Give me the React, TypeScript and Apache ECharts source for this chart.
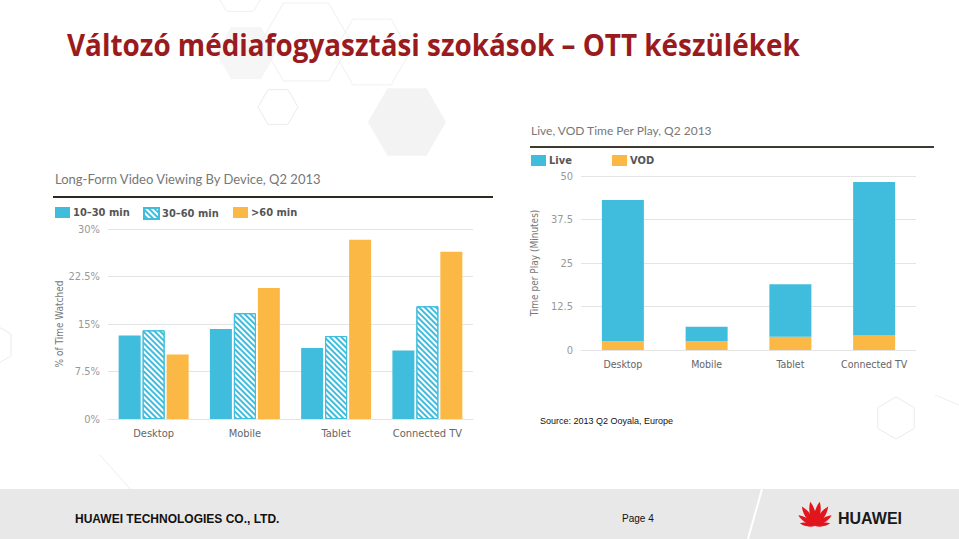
import React, { useEffect, useRef } from "react";
import * as echarts from "echarts";

const devices = ["Desktop", "Mobile", "Tablet", "Connected TV"];
const s10to30 = [13.2, 14.2, 11.2, 10.8];
const s30to60 = [14.0, 16.7, 13.1, 17.8];
const s60plus = [10.2, 20.7, 28.3, 26.4];
const liveVals = [40.6, 4.2, 15.1, 44.1];
const vodVals = [2.5, 2.5, 3.8, 4.2];
const leftTicks = [0, 7.5, 15, 22.5, 30];
const rightTicks = [0, 12.5, 25, 37.5, 50];

const BLUE = "#40bcdd";
const ORANGE = "#fbb845";
const COND = "'Liberation Sans Narrow', 'DejaVu Sans Condensed', 'Roboto', sans-serif";
const TITLE_TEXT = "Változó médiafogyasztási szokások – OTT készülékek";
const TITLE_FONT_FAMILY = "'Open Sans', 'Noto Sans', sans-serif";
const TITLE_SIZE = 31;
const TITLE_WEIGHT = 700;
const TITLE_TARGET_W = 733;

let registered = false;
function registerShapes() {
  if (registered) return;
  registered = true;
  echarts.graphic.registerShape(
    "petal",
    echarts.graphic.extendPath("M0,0 C-3.6,-5 -4,-11 0,-16 C4,-11 3.6,-5 0,0 Z", {})
  );
}

function hexPoints(cx: number, cy: number, r: number, pointyTop: boolean) {
  const pts: number[][] = [];
  for (let i = 0; i < 6; i++) {
    const a = (Math.PI / 3) * i + (pointyTop ? Math.PI / 6 : 0);
    pts.push([cx + r * Math.cos(a), cy + r * Math.sin(a)]);
  }
  return pts;
}

function measureTitle(): number {
  try {
    const c = document.createElement("canvas");
    const ctx = c.getContext("2d");
    if (!ctx) return 1;
    ctx.font = `${TITLE_WEIGHT} ${TITLE_SIZE}px ${TITLE_FONT_FAMILY}`;
    const w = ctx.measureText(TITLE_TEXT).width;
    return w > 0 ? TITLE_TARGET_W / w : 1;
  } catch (e) {
    return 1;
  }
}

export default function App() {
  const ref = useRef<HTMLDivElement>(null);
  useEffect(() => {
    if (!ref.current) return;
    registerShapes();
    const chart = echarts.init(ref.current, undefined, { renderer: "svg" });
    const titleScale = measureTitle();

    const petalAngles = [-80, -57, -34, -11, 11, 34, 57, 80];
    const petalScales = [0.62, 0.8, 0.95, 1.0, 1.0, 0.95, 0.8, 0.62];
    const petals = petalAngles.map((a, i) => ({
      type: "petal",
      x: 815,
      y: 526,
      rotation: (-a * Math.PI) / 180,
      scaleX: petalScales[i],
      scaleY: petalScales[i] * 1.55,
      style: { fill: "#e2141c" },
      silent: true,
    }));

    const faint = (pts: number[][], fill: string | null, stroke: string | null) => ({
      type: "polygon",
      shape: { points: pts },
      style: { fill: fill || "none", stroke: stroke || "none", lineWidth: 1 },
      z: -10,
      silent: true,
    });

    const option: any = {
      animation: false,
      backgroundColor: "#ffffff",
      graphic: [
        faint(hexPoints(407, 122, 39, false), "#f3f3f3", null),
        faint(hexPoints(246, 53, 30, false), "#f6f6f6", null),
        faint(hexPoints(240, -12, 27, false), null, "#efefef"),
        faint(hexPoints(306, 42, 45, false), null, "#efefef"),
        faint(hexPoints(372, 52, 38, false), null, "#f0f0f0"),
        faint(hexPoints(278, 107, 20, false), null, "#ebebeb"),
        faint(hexPoints(896, 418, 21, true), null, "#ebebeb"),
        faint(hexPoints(-8, 345, 22, true), null, "#ebebeb"),
        { type: "polyline", shape: { points: [[100, 455], [130, 489]] }, style: { stroke: "#eeeeee", lineWidth: 1 }, z: -10 },
        { type: "polyline", shape: { points: [[935, 395], [959, 405]] }, style: { stroke: "#eeeeee", lineWidth: 1 }, z: -10 },
        {
          type: "text",
          x: 67,
          y: 44,
          scaleX: titleScale,
          style: {
            text: TITLE_TEXT,
            fill: "#9a1b1e",
            fontSize: TITLE_SIZE,
            fontFamily: TITLE_FONT_FAMILY,
            fontWeight: TITLE_WEIGHT,
            align: "left",
            verticalAlign: "middle",
          },
        },
        {
          type: "text",
          x: 55,
          y: 179,
          style: { text: "Long-Form Video Viewing By Device, Q2 2013", fill: "#777777", fontSize: 13, fontFamily: "Lato, sans-serif", align: "left", verticalAlign: "middle" },
        },
        { type: "line", shape: { x1: 53, y1: 197, x2: 493, y2: 197 }, style: { stroke: "#2d2a22", lineWidth: 2 } },
        {
          type: "text",
          x: 531,
          y: 130,
          style: { text: "Live, VOD Time Per Play, Q2 2013", fill: "#777777", fontSize: 12, fontFamily: "Lato, sans-serif", align: "left", verticalAlign: "middle" },
        },
        { type: "line", shape: { x1: 530, y1: 147, x2: 934, y2: 147 }, style: { stroke: "#3d3a30", lineWidth: 2 } },
        {
          type: "text",
          x: 540,
          y: 421,
          style: { text: "Source: 2013 Q2 Ooyala, Europe", fill: "#111111", fontSize: 9, fontFamily: "'Liberation Sans', Arial, sans-serif", align: "left", verticalAlign: "middle" },
        },
        { type: "rect", shape: { x: 0, y: 489, width: 959, height: 50 }, style: { fill: "#e8e8e8" }, z: -5 },
        { type: "line", shape: { x1: 762, y1: 489, x2: 748, y2: 539 }, style: { stroke: "#ffffff", lineWidth: 2 }, z: -4 },
        {
          type: "text",
          x: 75,
          y: 519,
          style: { text: "HUAWEI TECHNOLOGIES CO., LTD.", fill: "#111111", fontSize: 12, fontWeight: "bold", fontFamily: "'Liberation Sans', Arial, sans-serif", align: "left", verticalAlign: "middle" },
        },
        {
          type: "text",
          x: 622,
          y: 518,
          style: { text: "Page 4", fill: "#111111", fontSize: 10, fontFamily: "'Liberation Sans', Arial, sans-serif", align: "left", verticalAlign: "middle" },
        },
        {
          type: "text",
          x: 838,
          y: 518,
          style: { text: "HUAWEI", fill: "#1a1a1a", fontSize: 16, fontWeight: "bold", fontFamily: "'Liberation Sans', Arial, sans-serif", align: "left", verticalAlign: "middle" },
        },
        ...petals,
      ],
      legend: [
        { data: ["10–30 min"], left: 55, top: 207 },
        { data: ["30–60 min"], left: 143, top: 207 },
        { data: [">60 min"], left: 233, top: 207 },
        { data: ["Live"], left: 531, top: 155 },
        { data: ["VOD"], left: 612, top: 155 },
      ].map((l) => ({
        ...l,
        padding: 0,
        icon: "rect",
        itemWidth: 15,
        itemHeight: 11,
        itemGap: 4,
        textStyle: { color: "#555555", fontSize: 11, fontWeight: "bold", fontFamily: COND, padding: [0, 0, 0, -2] },
        selectedMode: false,
      })),
      grid: [
        { left: 108, right: 959 - 473, top: 229, bottom: 539 - 419 },
        { left: 581, right: 959 - 916, top: 176, bottom: 539 - 350 },
      ],
      xAxis: [
        {
          type: "category",
          gridIndex: 0,
          data: devices,
          axisLine: { show: true, lineStyle: { color: "#e4e4e4" } },
          axisTick: { show: false },
          axisLabel: { color: "#666666", fontSize: 11, fontFamily: COND, margin: 9, interval: 0 },
        },
        {
          type: "category",
          gridIndex: 1,
          data: devices,
          axisLine: { show: true, lineStyle: { color: "#e4e4e4" } },
          axisTick: { show: false },
          axisLabel: { color: "#666666", fontSize: 10.5, fontFamily: COND, margin: 8, interval: 0 },
        },
      ],
      yAxis: [
        {
          type: "value",
          gridIndex: 0,
          min: leftTicks[0],
          max: leftTicks[leftTicks.length - 1],
          interval: leftTicks[1] - leftTicks[0],
          name: "% of Time Watched",
          nameLocation: "middle",
          nameGap: 44,
          nameTextStyle: { color: "#777777", fontSize: 10, fontFamily: COND },
          axisLine: { show: false },
          axisTick: { show: false },
          splitLine: { lineStyle: { color: "#e4e4e4" } },
          axisLabel: { color: "#999999", fontSize: 11, fontFamily: COND, margin: 8, formatter: (v: number) => v + "%" },
        },
        {
          type: "value",
          gridIndex: 1,
          min: rightTicks[0],
          max: rightTicks[rightTicks.length - 1],
          interval: rightTicks[1] - rightTicks[0],
          name: "Time per Play (Minutes)",
          nameLocation: "middle",
          nameGap: 42,
          nameTextStyle: { color: "#777777", fontSize: 10, fontFamily: COND },
          axisLine: { show: false },
          axisTick: { show: false },
          splitLine: { lineStyle: { color: "#e4e4e4" } },
          axisLabel: { color: "#999999", fontSize: 11, fontFamily: COND, margin: 8 },
        },
      ],
      series: [
        {
          name: "10–30 min",
          type: "bar",
          xAxisIndex: 0,
          yAxisIndex: 0,
          data: s10to30,
          barWidth: 22,
          barGap: "9%",
          itemStyle: { color: BLUE },
        },
        {
          name: "30–60 min",
          type: "bar",
          xAxisIndex: 0,
          yAxisIndex: 0,
          data: s30to60,
          barWidth: 22,
          barGap: "9%",
          itemStyle: {
            color: "#ffffff",
            borderColor: BLUE,
            borderWidth: 1,
            decal: {
              symbol: "rect",
              color: BLUE,
              backgroundColor: "#ffffff",
              dashArrayX: [1, 0],
              dashArrayY: [1.5, 2],
              rotation: Math.PI / 4,
            },
          },
        },
        {
          name: ">60 min",
          type: "bar",
          xAxisIndex: 0,
          yAxisIndex: 0,
          data: s60plus,
          barWidth: 22,
          barGap: "9%",
          itemStyle: { color: ORANGE },
        },
        {
          name: "VOD",
          type: "bar",
          xAxisIndex: 1,
          yAxisIndex: 1,
          stack: "play",
          data: vodVals,
          barWidth: 42,
          itemStyle: { color: ORANGE },
        },
        {
          name: "Live",
          type: "bar",
          xAxisIndex: 1,
          yAxisIndex: 1,
          stack: "play",
          data: liveVals,
          barWidth: 42,
          itemStyle: { color: BLUE },
        },
      ],
    };
    chart.setOption(option);
    return () => chart.dispose();
  }, []);
  return <div ref={ref} style={{ position: "absolute", left: 0, top: 0, width: 959, height: 539 }} />;
}
